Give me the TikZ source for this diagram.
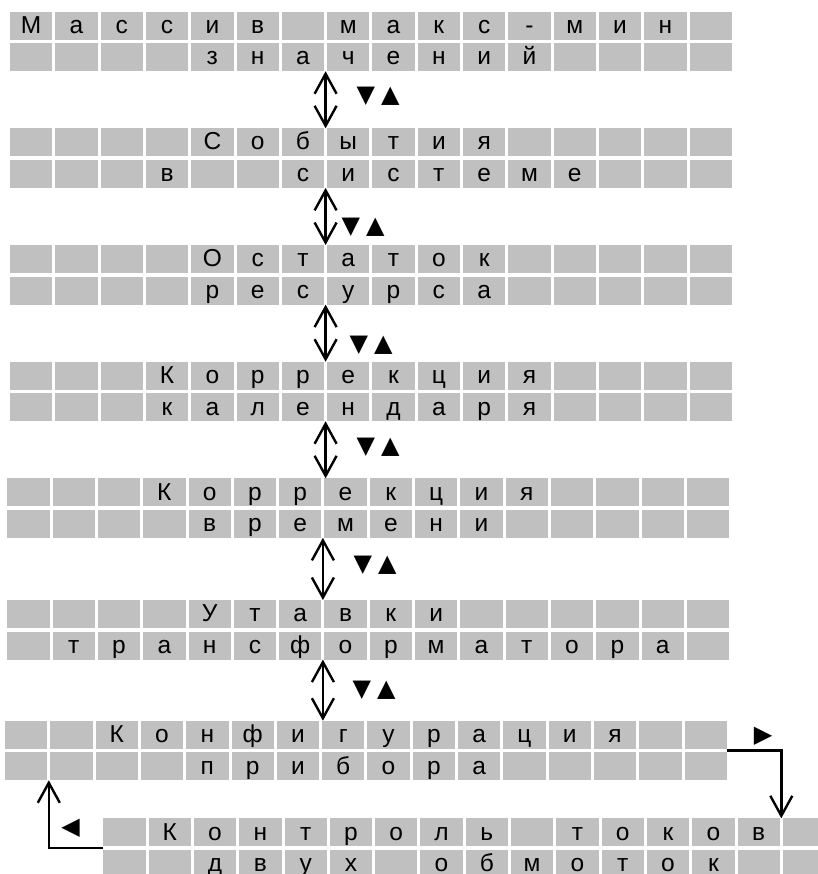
\documentclass[tikz,border=0pt]{standalone}
\usepackage{fontspec}
\setmainfont{Liberation Sans}
\newfontfamily\symfont{DejaVu Sans}
\usetikzlibrary{arrows.meta,calc}
\definecolor{cellgray}{RGB}{192,192,192}
\tikzset{
  cell/.style={fill=cellgray, draw=none, minimum width=42.3pt, minimum height=28pt,
    inner sep=0pt, outer sep=0pt, anchor=north west, text height=21.7pt, text depth=6.3pt,
    font=\fontsize{24.5}{24.5}\selectfont},
  barb/.tip={Straight Barb[length=20pt,width=22pt,line width=2.4pt]},
  conn/.style={line width=2.4pt, -barb},
  dconn/.style={line width=2.4pt, barb-barb},
  tri/.style={font=\symfont\fontsize{24}{24}\selectfont, inner sep=0pt}
}
\newcommand\cellrow[4]{%
  \foreach \ch [count=\i] in {#4} {
    \node[cell] (#1c\i) at ({#2+(\i-1)*45.3}, #3) {\ch};
  }%
}
\newcommand\twotri{▼\hspace{6pt}▲}
\begin{document}
\begin{tikzpicture}[x=1pt, y=-1pt]
\useasboundingbox (0,0) rectangle (817,874);
% block 1
\cellrow{b1r1}{10}{11.7}{М,а,с,с,и,в,{},м,а,к,с,-,м,и,н,{}}
\cellrow{b1r2}{10}{43.3}{{},{},{},{},з,н,а,ч,е,н,и,й,{},{},{},{}}
% block 2
\cellrow{b2r1}{10}{128.3}{{},{},{},{},С,о,б,ы,т,и,я,{},{},{},{},{}}
\cellrow{b2r2}{10}{159.9}{{},{},{},в,{},{},с,и,с,т,е,м,е,{},{},{}}
% block 3
\cellrow{b3r1}{10}{245}{{},{},{},{},О,с,т,а,т,о,к,{},{},{},{},{}}
\cellrow{b3r2}{10}{276.6}{{},{},{},{},р,е,с,у,р,с,а,{},{},{},{},{}}
% block 4
\cellrow{b4r1}{10}{361.7}{{},{},{},К,о,р,р,е,к,ц,и,я,{},{},{},{}}
\cellrow{b4r2}{10}{393.3}{{},{},{},к,а,л,е,н,д,а,р,я,{},{},{},{}}
% block 5
\cellrow{b5r1}{7.3}{478.3}{{},{},{},К,о,р,р,е,к,ц,и,я,{},{},{},{}}
\cellrow{b5r2}{7.3}{509.9}{{},{},{},{},в,р,е,м,е,н,и,{},{},{},{},{}}
% block 6
\cellrow{b6r1}{7.3}{600}{{},{},{},{},У,т,а,в,к,и,{},{},{},{},{},{}}
\cellrow{b6r2}{7.3}{631.6}{{},т,р,а,н,с,ф,о,р,м,а,т,о,р,а,{}}
% block 7
\cellrow{b7r1}{5}{720.7}{{},{},К,о,н,ф,и,г,у,р,а,ц,и,я,{},{}}
\cellrow{b7r2}{5}{752.3}{{},{},{},{},п,р,и,б,о,р,а,{},{},{},{},{}}
% block 8
\cellrow{b8r1}{103.3}{818.3}{{},К,о,н,т,р,о,л,ь,{},т,о,к,о,в,{}}
\cellrow{b8r2}{103.3}{849.9}{{},{},д,в,у,х,{},о,б,м,о,т,о,к,{},{}}
% vertical double arrows
\foreach \a/\b in {1/2,2/3,3/4,4/5,5/6,6/7} {
  \coordinate (g\a) at ($(b\a r2c7.south east)!.5!(b\a r2c8.south west)$);
  \draw[dconn] (g\a) -- (g\a |- b\b r1c8.north);
}
% triangle marks
\node[tri] (m1) at (378,96) {\twotri};
\node[tri] (m2) at (363,227) {\twotri};
\node[tri] (m3) at (371,345) {\twotri};
\node[tri] (m4) at (378,447.5) {\twotri};
\node[tri] (m5) at (375,565) {\twotri};
\node[tri] (m6) at (374,690) {\twotri};
\node[tri] (m7) at (763,736) {▶};
\node[tri] (m8) at (70.5,828.5) {◀};
% bottom connectors
\coordinate (r0) at ($(b7r1c16.south east)!.5!(b7r2c16.north east)$);
\coordinate (r1) at ($(b8r1c15.north east)!.5!(b8r1c16.north west)$);
\draw[conn] (r0) -| (r1);
\coordinate (l0) at ($(b8r1c1.south west)!.5!(b8r2c1.north west)$);
\coordinate (l1) at ($(b7r2c1.south east)!.5!(b7r2c2.south west)$);
\draw[conn] (l0) -| (l1);
\end{tikzpicture}
\end{document}
